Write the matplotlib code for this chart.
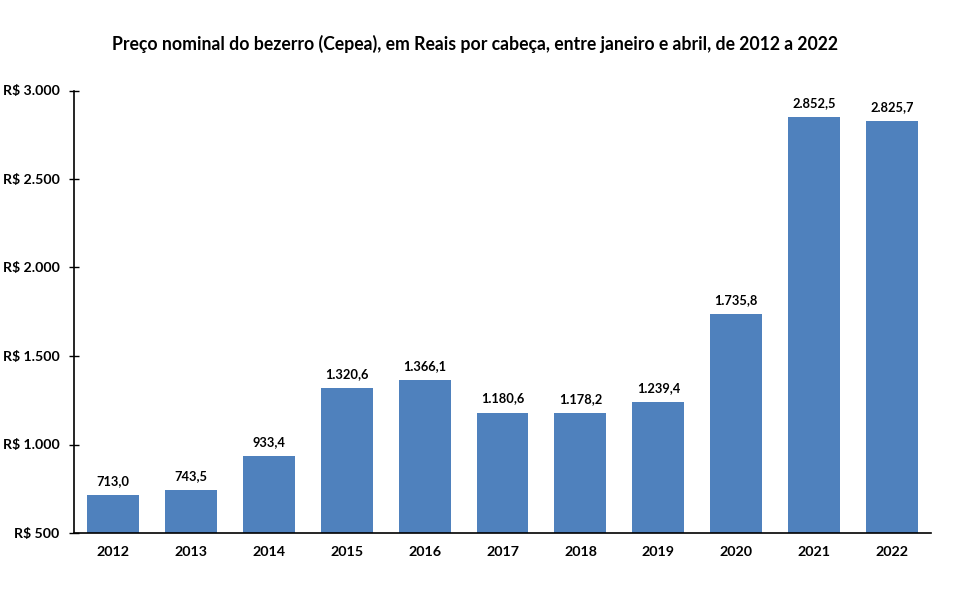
import matplotlib.pyplot as plt
import numpy as np

# ------------------------------- DATA ------------------------------- #
anos = ['2012', '2013', '2014', '2015', '2016', '2017', '2018', '2019', '2020', '2021', '2022']
precos = [713.0, 743.5, 933.4, 1320.6, 1366.1, 1180.6, 1178.2, 1239.4, 1735.8, 2852.5, 2825.7]
y_ticks = [500, 1000, 1500, 2000, 2500, 3000]

plt.rcParams['font.family'] = ['Lato', 'DejaVu Sans']

def fmt_br(v, dec):
    s = f"{v:,.{dec}f}"
    return s.replace(',', 'X').replace('.', ',').replace('X', '.')

# ------------------------------- PLOT ------------------------------- #
fig = plt.figure(figsize=(9.6, 5.93), dpi=100)
ax = fig.add_axes((74 / 960, 1 - 533 / 593, 857 / 960, (533 - 90.5) / 593))

x = np.arange(len(anos))
ax.bar(x, precos, width=0.667, color='#4F81BD', zorder=2)

for xi, v in zip(x, precos):
    ax.text(xi, v + 45, fmt_br(v, 1), ha='center', va='bottom',
            fontsize=9.3, fontweight='bold', color='black')

ax.set_xlim(-0.5, len(anos) - 0.5)
ax.set_ylim(500, 3000)
ax.set_xticks(x)
ax.set_xticklabels(anos, fontsize=10.3, fontweight='bold')
ax.set_yticks(y_ticks)
ax.set_yticklabels(['R$ ' + fmt_br(t, 0) for t in y_ticks], fontsize=10.2, fontweight='bold')

ax.tick_params(axis='x', length=0, pad=9)
ax.tick_params(axis='y', direction='inout', length=7, width=1, pad=7)

ax.spines['top'].set_visible(False)
ax.spines['right'].set_visible(False)
ax.spines['left'].set_linewidth(1.2)
ax.spines['bottom'].set_linewidth(1.2)

fig.text(475 / 960, 1 - 44 / 593,
         'Preço nominal do bezerro (Cepea), em Reais por cabeça, entre janeiro e abril, de 2012 a 2022',
         ha='center', va='center', fontsize=12.7, fontweight='bold')

fig.savefig('out.png', dpi=100)
plt.close(fig)
